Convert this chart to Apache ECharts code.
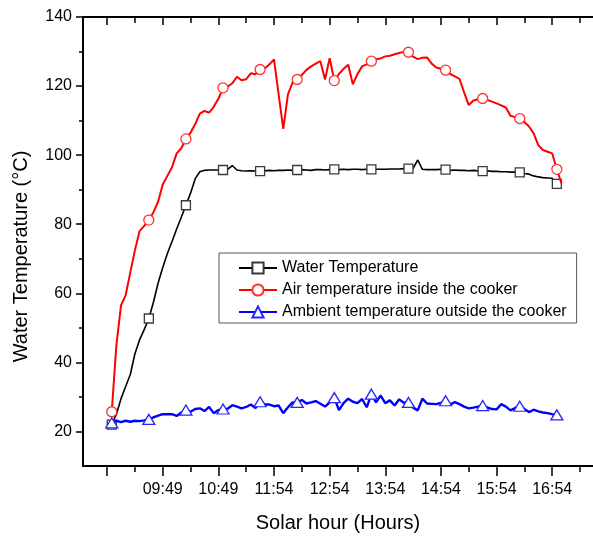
<!DOCTYPE html>
<html>
<head>
<meta charset="utf-8">
<script src="https://cdn.jsdelivr.net/npm/echarts@6/dist/echarts.min.js"></script>
<style>
html,body{margin:0;padding:0;background:#fff;}
#chart{width:593px;height:538px;}
</style>
</head>
<body>
<div id="chart"></div>
<script>
// minutes after the first (unlabelled) major tick
const times = [5,10,15,20,25,30,35,40,45,50,55,60,65,70,75,80,85,90,95,100,
  105,110,115,120,125,130,135,140,145,150,155,160,165,170,175,180,185,190,195,200,
  205,210,215,220,225,230,235,240,245,250,255,260,265,270,275,280,285,290,295,300,
  305,310,315,320,325,330,335,340,345,350,355,360,365,370,375,380,385,390,395,400,
  405,410,415,420,425,430,435,440,445,450,455,460,465,470,475,480,485,490];

const waterTemp = [22.0,25.0,29.5,33.0,36.5,42.5,46.5,49.5,52.7,57.5,
  63.0,67.5,71.5,75.0,78.6,82.0,85.5,89.0,93.2,95.2,
  95.6,95.7,95.7,95.7,95.7,95.9,97.0,95.7,95.5,95.4,
  95.5,95.4,95.4,95.5,95.6,95.5,95.6,95.6,95.7,95.6,
  95.7,95.8,95.7,95.6,95.8,95.8,95.7,95.8,95.9,95.8,
  95.9,95.8,95.9,95.9,95.8,95.9,95.9,95.9,95.9,95.9,
  96.0,96.0,96.0,96.1,96.1,96.2,98.6,95.9,95.8,95.8,
  95.8,95.9,95.8,95.6,95.7,95.6,95.6,95.5,95.6,95.5,
  95.4,95.5,95.3,95.3,95.2,95.2,95.1,95.1,95.0,94.7,
  94.5,94.0,93.7,93.5,93.4,93.3,91.7];

const airInside = [25.7,45.0,56.5,59.5,66.0,72.5,78.0,79.5,81.2,83.5,
  86.5,91.5,94.0,96.5,100.5,102.0,104.7,106.5,109.0,112.0,
  112.8,112.3,114.0,116.3,119.5,119.8,120.8,122.7,121.7,122.0,
  123.7,123.4,124.8,125.1,126.3,127.7,117.5,107.6,117.6,121.0,
  121.9,123.2,124.7,125.7,126.5,127.2,121.9,128.1,121.6,123.5,
  125.0,126.2,120.5,123.5,125.7,126.3,127.2,127.8,128.0,128.6,
  128.8,129.2,129.6,129.9,129.8,128.5,127.8,128.2,128.3,126.5,
  125.4,125.0,124.6,123.5,122.8,122.1,118.2,114.5,115.8,116.2,
  116.4,116.0,115.5,115.0,114.4,113.8,111.4,111.0,110.6,109.6,
  108.3,106.3,102.9,101.5,101.0,100.5,95.9,91.8];

const ambient = [22.5,23.1,22.7,23.1,22.8,23.1,23.0,23.2,23.5,24.1,
  24.6,25.0,25.0,25.0,24.5,25.5,26.2,25.7,26.5,26.7,
  25.9,27.1,25.3,26.2,26.5,26.6,27.6,27.2,26.7,27.1,
  27.8,26.8,28.6,27.8,27.8,27.3,27.5,25.3,27.0,28.4,
  28.4,29.1,28.1,28.4,28.8,28.0,27.2,28.4,29.8,26.2,
  28.2,29.5,28.6,28.2,29.4,27.0,30.8,28.4,30.4,28.2,
  29.0,27.5,29.3,28.3,28.4,26.9,26.1,29.5,28.1,28.0,
  27.9,28.3,28.9,27.8,28.5,27.9,27.2,26.7,26.9,27.2,
  27.5,27.0,26.5,26.4,27.9,27.2,26.1,26.8,27.3,26.5,
  25.6,26.3,25.8,25.5,25.3,25.0,24.8];

const majorTicks = [0,60,120,180,240,300,360,420,480];
const minorTicks = [30,90,150,210,270,330,390,450,510];
const tickLabels = ['','09:49','10:49','11:54','12:54','13:54','14:54','15:54','16:54'];
const yMajor = [20,40,60,80,100,120,140];
const yMinor = [30,50,70,90,110,130];

const seriesNames = ['Water Temperature','Air temperature inside the cooker','Ambient temperature outside the cooker'];
const markerEvery = 8;

function pts(vals){
  return vals.map((v,i)=>({value:[times[i], v], symbol: (i % markerEvery === 0) ? undefined : 'none'}));
}

const FONT = '"Liberation Sans", Arial, sans-serif';
const chart = echarts.init(document.getElementById('chart'), null, {renderer:'canvas'});
const axisBlack = {color:'#000', width:2};

const option = {
  animation:false,
  backgroundColor:'#fff',
  grid:{left:83, top:17, right:-7, bottom:69, containLabel:false},
  legend:{
    orient:'vertical', left:219, top:253,
    padding:[7,10,3,19],
    itemWidth:38, itemHeight:14, itemGap:6,
    borderColor:'#555', borderWidth:1,
    textStyle:{fontFamily:FONT, fontSize:16, color:'#000', lineHeight:14},
    data:seriesNames
  },
  xAxis:[
    {type:'value', position:'bottom', min:-26, max:524,
     axisLine:{show:true, onZero:false, lineStyle:axisBlack},
     axisTick:{show:true, customValues:majorTicks, length:10, lineStyle:{color:'#000', width:1.5}},
     axisLabel:{show:true, customValues:majorTicks, margin:16,
       formatter:(v)=>{const i = majorTicks.indexOf(v); return i>=0 ? tickLabels[i] : '';},
       fontFamily:FONT, fontSize:16, color:'#000'},
     splitLine:{show:false},
     name:'Solar hour (Hours)', nameLocation:'middle', nameGap:47,
     nameTextStyle:{fontFamily:FONT, fontSize:20, color:'#000'}},
    {type:'value', position:'bottom', min:-26, max:524,
     axisLine:{show:false, onZero:false},
     axisTick:{show:true, customValues:minorTicks, length:6, lineStyle:{color:'#000', width:1.5}},
     axisLabel:{show:false}, splitLine:{show:false}},
    {type:'value', position:'top', min:-26, max:524,
     axisLine:{show:true, onZero:false, lineStyle:axisBlack},
     axisTick:{show:true, inside:true, customValues:majorTicks, length:8, lineStyle:{color:'#000', width:1.5}},
     axisLabel:{show:false}, splitLine:{show:false}},
    {type:'value', position:'top', min:-26, max:524,
     axisLine:{show:false, onZero:false},
     axisTick:{show:true, inside:true, customValues:minorTicks, length:6, lineStyle:{color:'#000', width:1.5}},
     axisLabel:{show:false}, splitLine:{show:false}}
  ],
  yAxis:[
    {type:'value', position:'left', min:10, max:140,
     axisLine:{show:true, onZero:false, lineStyle:axisBlack},
     axisTick:{show:true, customValues:yMajor, length:7, lineStyle:{color:'#000', width:1.5}},
     axisLabel:{show:true, customValues:yMajor, margin:11, fontFamily:FONT, fontSize:16, color:'#000'},
     splitLine:{show:false},
     name:'Water Temperature (°C)', nameLocation:'middle', nameGap:52, nameRotate:90,
     nameTextStyle:{fontFamily:FONT, fontSize:20, color:'#000', padding:[0,30,0,0]}},
    {type:'value', position:'left', min:10, max:140,
     axisLine:{show:false, onZero:false},
     axisTick:{show:true, customValues:yMinor, length:4, lineStyle:{color:'#000', width:1.5}},
     axisLabel:{show:false}, splitLine:{show:false}}
  ],
  series:[
    {name:seriesNames[0], type:'line', xAxisIndex:0, yAxisIndex:0,
     data:pts(waterTemp), symbol:'rect', symbolSize:9, showSymbol:true,
     lineStyle:{color:'#000', width:1.6},
     itemStyle:{color:'#fff', borderColor:'#3a3a3a', borderWidth:1.3},
     emphasis:{disabled:true}, z:2},
    {name:seriesNames[1], type:'line', xAxisIndex:0, yAxisIndex:0,
     data:pts(airInside), symbol:'circle', symbolSize:10, showSymbol:true,
     lineStyle:{color:'#ff0000', width:2},
     itemStyle:{color:'#fff', borderColor:'#ff3030', borderWidth:1.3},
     emphasis:{disabled:true}, z:3},
    {name:seriesNames[2], type:'line', xAxisIndex:0, yAxisIndex:0,
     data:pts(ambient), symbol:'triangle', symbolSize:[12,10], showSymbol:true,
     lineStyle:{color:'#0000ff', width:2.4},
     itemStyle:{color:'#fff', borderColor:'#2525ff', borderWidth:1.3},
     emphasis:{disabled:true}, z:4}
  ]
};
chart.setOption(option);
</script>
</body>
</html>
